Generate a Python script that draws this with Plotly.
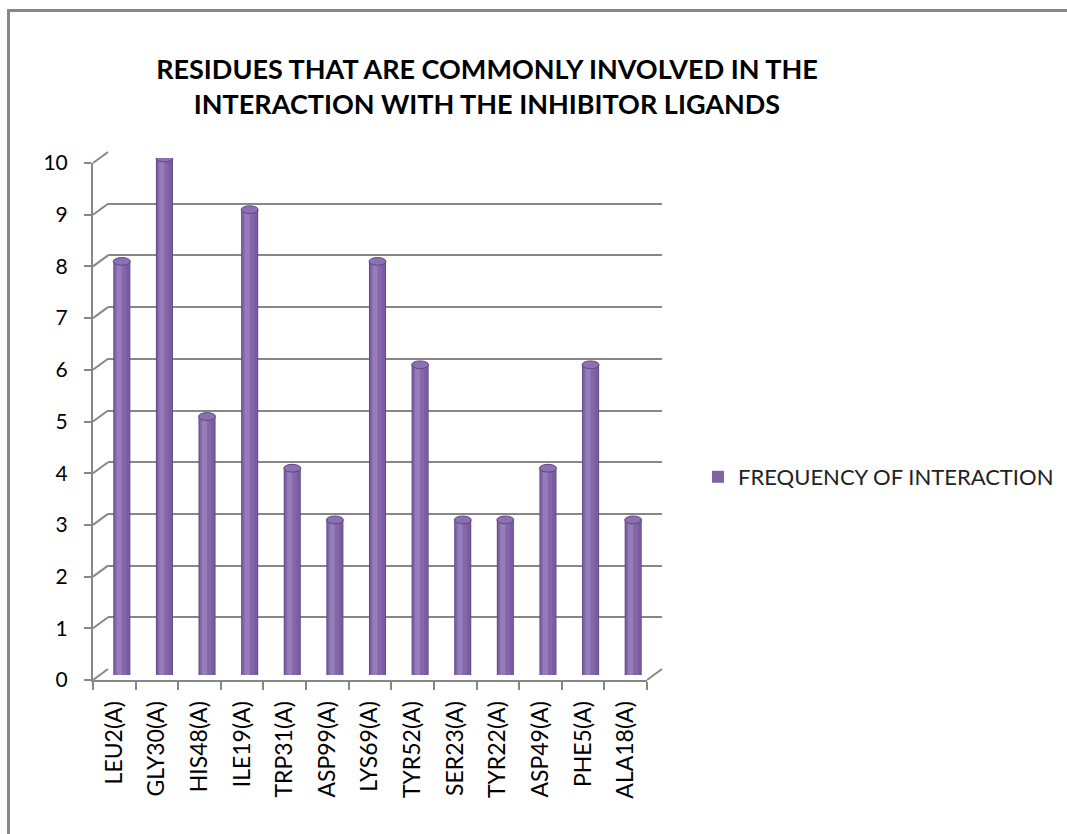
import plotly.graph_objects as go

residues = ["LEU2(A)", "GLY30(A)", "HIS48(A)", "ILE19(A)", "TRP31(A)", "ASP99(A)", "LYS69(A)",
            "TYR52(A)", "SER23(A)", "TYR22(A)", "ASP49(A)", "PHE5(A)", "ALA18(A)"]
frequency = [8, 10, 5, 9, 4, 3, 8, 6, 3, 3, 4, 6, 3]
y_ticks = list(range(0, 11))
series_name = "FREQUENCY OF INTERACTION"
title_text = "RESIDUES THAT ARE COMMONLY INVOLVED IN THE<br>INTERACTION WITH THE INHIBITOR LIGANDS"

W, H = 1067, 834
FONT = "Lato"
GRAY = "#878787"
PURPLE = "#8064A2"


def px_x(p):
    return p / W


def px_y(p):
    return 1 - p / H


# domains (pixel geometry of the pseudo-3D box)
front_x = [px_x(93), px_x(647)]
front_y = [px_y(680), px_y(163)]
back_x = [px_x(108), px_x(662)]
back_y = [px_y(669), px_y(152)]
bar_x = [px_x(100.5), px_x(654.5)]
bar_y = [px_y(675), px_y(158)]

n = len(residues)
idx = list(range(n))

fig = go.Figure()

# dummy trace so the back-wall subplot is drawn
fig.add_trace(go.Scatter(x=[None], y=[None], xaxis="x2", yaxis="y2", showlegend=False,
                         hoverinfo="skip"))

# invisible trace registers categories on front axis
fig.add_trace(go.Bar(x=residues, y=frequency, xaxis="x", yaxis="y",
                     marker=dict(opacity=0), showlegend=False, hoverinfo="skip"))

# cylinder layers
layers = [
    (0.40, 0.0, "#5E4884"),
    (0.36, 0.0, "#7A5DA0"),
    (0.26, -0.03, "#8467AA"),
    (0.12, -0.06, "#957DB9"),
]
for w, shift, col in layers:
    fig.add_trace(go.Bar(
        x=idx, y=frequency, xaxis="x3", yaxis="y3",
        width=w, offset=[-w / 2 + shift] * n,
        marker=dict(color=col, line=dict(width=0)),
        name=series_name, showlegend=False, hoverinfo="skip"))

# legend entry
fig.add_trace(go.Bar(x=[None], y=[None], xaxis="x3", yaxis="y3",
                     marker=dict(color=PURPLE), name=series_name, showlegend=True))

shapes = []
# cylinder caps
for i, v in zip(idx, frequency):
    shapes.append(dict(type="circle", xref="x3", yref="y3",
                       x0=i - 0.2, x1=i + 0.2, y0=v - 0.075, y1=v + 0.075,
                       fillcolor="#8C70B2", line=dict(color="#5E4884", width=1), layer="above"))


def yfront(v):
    return front_y[0] + (front_y[1] - front_y[0]) * v / 10


def yback(v):
    return back_y[0] + (back_y[1] - back_y[0]) * v / 10


# diagonal connectors between front axis and back wall
for v in y_ticks:
    shapes.append(dict(type="line", xref="paper", yref="paper",
                       x0=front_x[0], y0=yfront(v), x1=back_x[0], y1=yback(v),
                       line=dict(color=GRAY, width=2), layer="below"))
shapes.append(dict(type="line", xref="paper", yref="paper",
                   x0=front_x[1], y0=yfront(0), x1=back_x[1], y1=yback(0),
                   line=dict(color=GRAY, width=2), layer="below"))

# outer chart border
shapes.append(dict(type="rect", xref="paper", yref="paper",
                   x0=px_x(8.5), y0=-0.2, x1=1.2, y1=px_y(10.5),
                   line=dict(color=GRAY, width=3), fillcolor="rgba(0,0,0,0)"))

fig.update_layout(
    width=W, height=H,
    autosize=False,
    margin=dict(l=0, r=0, t=0, b=0, pad=0, autoexpand=False),
    template="none",
    paper_bgcolor="white", plot_bgcolor="rgba(0,0,0,0)",
    barmode="overlay",
    font=dict(family=FONT, color="black"),
    title=dict(text=title_text, x=px_x(487), y=px_y(86), xanchor="center", yanchor="middle",
               xref="paper", yref="paper",
               font=dict(family=FONT, size=27, color="black", weight="bold")),
    showlegend=True,
    legend=dict(x=px_x(698), y=px_y(477), xanchor="left", yanchor="middle",
                font=dict(family=FONT, size=22, color="#222"), bgcolor="rgba(0,0,0,0)"),
    shapes=shapes,
    # front axes
    xaxis=dict(domain=front_x, anchor="y", type="category", categoryorder="array",
               categoryarray=residues, range=[-0.5, n - 0.5], automargin=False,
               showline=True, linecolor=GRAY, linewidth=2, showgrid=False, zeroline=False,
               ticks="outside", tickson="boundaries", ticklen=8, tickwidth=2, tickcolor=GRAY,
               tickangle=-90, tickfont=dict(family=FONT, size=23, color="black"),
               ticklabelstandoff=10),
    yaxis=dict(domain=front_y, anchor="x", range=[0, 10], tickvals=y_ticks, automargin=False,
               showline=True, linecolor=GRAY, linewidth=2, showgrid=False, zeroline=False,
               ticks="outside", ticklen=7, tickwidth=2, tickcolor=GRAY,
               tickfont=dict(family=FONT, size=21, color="black"), ticklabelstandoff=12),
    # back wall gridlines
    xaxis2=dict(domain=back_x, anchor="y2", range=[0, 1], visible=False, automargin=False),
    yaxis2=dict(domain=back_y, anchor="x2", range=[-0.001, 10.001], tickvals=y_ticks,
                showgrid=True, gridcolor=GRAY, gridwidth=2, zeroline=False, automargin=False,
                showticklabels=False, ticks="", showline=False),
    # bars
    xaxis3=dict(domain=bar_x, anchor="y3", range=[-0.5, n - 0.5], visible=False,
                automargin=False),
    yaxis3=dict(domain=bar_y, anchor="x3", range=[0, 10], visible=False, automargin=False),
)

fig.update_layout(title_y=px_y(79))

fig.write_html("out.html")
